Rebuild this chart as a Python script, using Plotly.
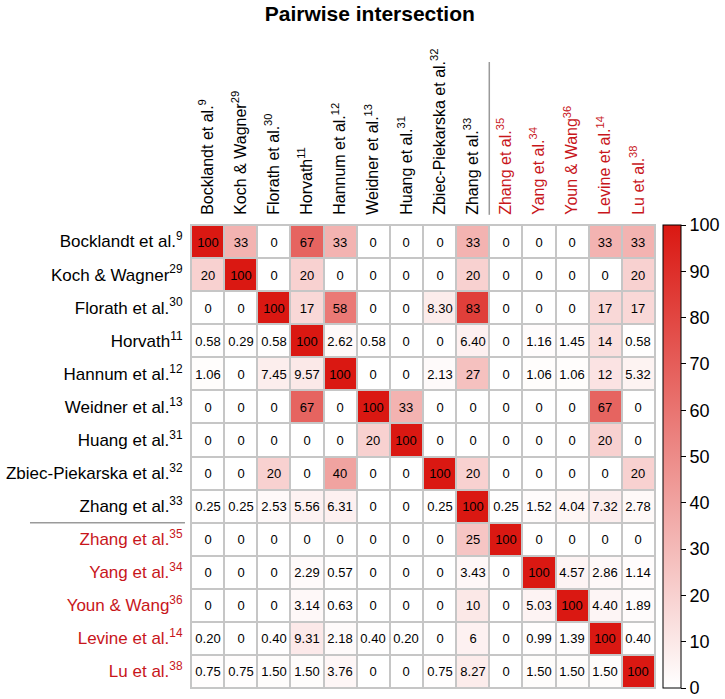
import plotly.graph_objects as go

title = "Pairwise intersection"

studies = ["Bocklandt et al.", "Koch & Wagner", "Florath et al.", "Horvath",
           "Hannum et al.", "Weidner et al.", "Huang et al.", "Zbiec-Piekarska et al.",
           "Zhang et al.", "Zhang et al.", "Yang et al.", "Youn & Wang",
           "Levine et al.", "Lu et al."]
refs = ["9", "29", "30", "11", "12", "13", "31", "32", "33", "35", "34", "36", "14", "38"]
highlighted = [False] * 9 + [True] * 5

# cell labels (row = study on y axis, column = study on x axis), in percent
row_bocklandt = ["100", "33", "0", "67", "33", "0", "0", "0", "33", "0", "0", "0", "33", "33"]
row_koch = ["20", "100", "0", "20", "0", "0", "0", "0", "20", "0", "0", "0", "0", "20"]
row_florath = ["0", "0", "100", "17", "58", "0", "0", "8.30", "83", "0", "0", "0", "17", "17"]
row_horvath = ["0.58", "0.29", "0.58", "100", "2.62", "0.58", "0", "0", "6.40", "0", "1.16", "1.45", "14", "0.58"]
row_hannum = ["1.06", "0", "7.45", "9.57", "100", "0", "0", "2.13", "27", "0", "1.06", "1.06", "12", "5.32"]
row_weidner = ["0", "0", "0", "67", "0", "100", "33", "0", "0", "0", "0", "0", "67", "0"]
row_huang = ["0", "0", "0", "0", "0", "20", "100", "0", "0", "0", "0", "0", "20", "0"]
row_zbiec = ["0", "0", "20", "0", "40", "0", "0", "100", "20", "0", "0", "0", "0", "20"]
row_zhang33 = ["0.25", "0.25", "2.53", "5.56", "6.31", "0", "0", "0.25", "100", "0.25", "1.52", "4.04", "7.32", "2.78"]
row_zhang35 = ["0", "0", "0", "0", "0", "0", "0", "0", "25", "100", "0", "0", "0", "0"]
row_yang = ["0", "0", "0", "2.29", "0.57", "0", "0", "0", "3.43", "0", "100", "4.57", "2.86", "1.14"]
row_youn = ["0", "0", "0", "3.14", "0.63", "0", "0", "0", "10", "0", "5.03", "100", "4.40", "1.89"]
row_levine = ["0.20", "0", "0.40", "9.31", "2.18", "0.40", "0.20", "0", "6", "0", "0.99", "1.39", "100", "0.40"]
row_lu = ["0.75", "0.75", "1.50", "1.50", "3.76", "0", "0", "0.75", "8.27", "0", "1.50", "1.50", "1.50", "100"]

rows = [row_bocklandt, row_koch, row_florath, row_horvath, row_hannum, row_weidner,
        row_huang, row_zbiec, row_zhang33, row_zhang35, row_yang, row_youn,
        row_levine, row_lu]

colorbar_ticks = list(range(0, 101, 10))

z = [[float(v) for v in r] for r in rows]
n = len(studies)
idx = list(range(n))

RED_LABEL = "#c8161b"
labels = []
for s, r, h in zip(studies, refs, highlighted):
    t = f"{s}<sup>{r}</sup>"
    if h:
        t = f"<span style='color:{RED_LABEL}'>{t}</span>"
    labels.append(t)

FONT = "Arial, 'Liberation Sans', sans-serif"

fig = go.Figure(go.Heatmap(
    z=z, x=idx, y=idx, text=rows, texttemplate="%{text}",
    textfont=dict(family=FONT, size=13, color="black"),
    colorscale=[[0, "#ffffff"], [1, "#da1812"]], zmin=0, zmax=100,
    xgap=2, ygap=2,
    colorbar=dict(x=1.017, xanchor="left", xpad=0, y=0.5, yanchor="middle",
                  len=1.0, lenmode="fraction", thickness=18, ypad=0,
                  outlinewidth=1, outlinecolor="black",
                  tickvals=colorbar_ticks, ticks="outside", ticklen=5,
                  tickcolor="black", tickfont=dict(family=FONT, size=18, color="black")),
    hoverinfo="skip",
))

fig.update_layout(
    width=725, height=699,
    margin=dict(l=191, r=70, t=225, b=11, autoexpand=False),
    paper_bgcolor="white", plot_bgcolor="#c6c6c6",
    title=dict(text="<b>" + title + "</b>", x=0.51, xanchor="center", xref="container",
               y=0.98, yanchor="middle", yref="container",
               font=dict(family=FONT, size=21, color="black")),
    font=dict(family=FONT, color="black"),
)
fig.update_xaxes(side="top", tickmode="array", tickvals=idx, ticktext=labels,
                 tickangle=-90, tickfont=dict(size=16, color="black"),
                 showgrid=False, zeroline=False, range=[-0.5, n - 0.5], automargin=False,
                 showline=True, mirror=True, linecolor="#c6c6c6", linewidth=1,
                 ticks="outside", ticklen=6, tickcolor="rgba(0,0,0,0)")
fig.update_yaxes(tickmode="array", tickvals=idx, ticktext=labels,
                 tickfont=dict(size=17, color="black"),
                 showgrid=False, zeroline=False, range=[n - 0.5, -0.5], automargin=False,
                 showline=True, mirror=True, linecolor="#c6c6c6", linewidth=1,
                 ticks="outside", ticklen=4, tickcolor="rgba(0,0,0,0)")

# separators between the two groups of studies
fig.add_shape(type="line", xref="x", yref="paper", x0=8.5, x1=8.5, y0=1.022, y1=1.352,
              line=dict(color="#9a9a9a", width=1.5))
fig.add_shape(type="line", xref="paper", yref="y", x0=-0.347, x1=-0.013, y0=8.5, y1=8.5,
              line=dict(color="#9a9a9a", width=1.5))

fig.write_html("out.html", config={"displayModeBar": False},
               post_script="document.body.style.margin='0px';document.body.style.overflow='hidden';")
